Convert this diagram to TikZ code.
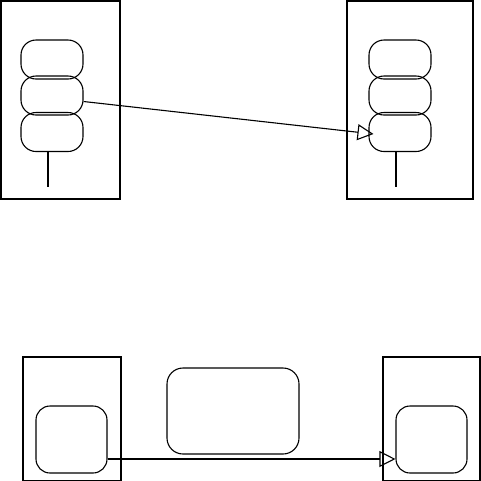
\documentclass[tikz,border=0pt]{standalone}
\usetikzlibrary{arrows.meta}
\begin{document}
\begin{tikzpicture}[x=1pt,y=-1pt,
  outerbox/.style={draw,line width=1.4pt,rectangle,inner sep=0pt},
  pill/.style={draw,line width=1.1pt,rectangle,rounded corners=15pt,minimum width=62pt,minimum height=39pt,inner sep=0pt},
  rbox/.style={draw,line width=1.1pt,rectangle,rounded corners=14pt,inner sep=0pt},
  conn/.style={line width=1.1pt,-{Triangle[open,length=16pt,width=16pt]}},
  stem/.style={line width=1.1pt}]
\useasboundingbox (0,0) rectangle (481,480);
% top left
\node[outerbox,minimum width=119pt,minimum height=198pt] (tl) at (60.5,100) {};
\node[pill] (l1) at (52,59.5) {};
\node[pill] (l2) at (52,95.5) {};
\node[pill] (l3) at (52,132) {};
\coordinate (lend) at (48,187);
\draw[stem] (l3.south -| lend) -- (lend);
% top right
\node[outerbox,minimum width=126pt,minimum height=198pt] (tr) at (410,100) {};
\node[pill] (r1) at (400,59.5) {};
\node[pill] (r2) at (400,95.5) {};
\node[pill] (r3) at (400,132) {};
\coordinate (rend) at (396,187);
\draw[stem] (r3.south -| rend) -- (rend);
\draw[conn] ([yshift=-6pt]l2.east) -- ([xshift=5pt,yshift=-2pt]r3.west);
% bottom
\node[outerbox,minimum width=98pt,minimum height=124pt] (bl) at (72,419) {};
\node[rbox,minimum width=71pt,minimum height=67pt] (bli) at (71.5,439.5) {};
\node[rbox,minimum width=132pt,minimum height=86pt,rounded corners=16pt] (bm) at (233,411) {};
\node[outerbox,minimum width=97pt,minimum height=124pt] (br) at (431.5,419) {};
\node[rbox,minimum width=71pt,minimum height=67pt] (bri) at (431.5,439.5) {};
\draw[conn] ([yshift=-19.5pt]bli.east) -- ([yshift=-19.5pt]bri.west);
\end{tikzpicture}
\end{document}
